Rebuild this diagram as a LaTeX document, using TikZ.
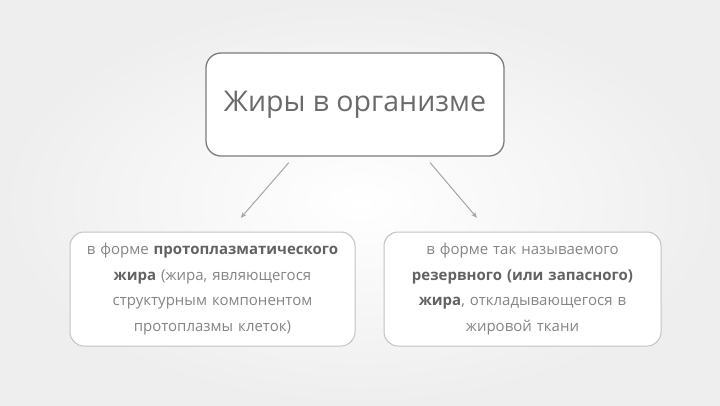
\documentclass[tikz,border=0pt]{standalone}
\usepackage{fontspec}
\setmainfont{Open Sans}
\usetikzlibrary{arrows.meta}
\definecolor{bgout}{HTML}{EEEEEE}
\definecolor{titlecol}{HTML}{6A6A6A}
\definecolor{topborder}{HTML}{7C7C7C}
\definecolor{subborder}{HTML}{C2C2C2}
\definecolor{txtlight}{HTML}{858585}
\definecolor{txtbold}{HTML}{626262}
\definecolor{arrcol}{HTML}{A5A5A5}
\newcommand{\bw}[1]{{\bfseries\color{txtbold}#1}}
\begin{document}
\begin{tikzpicture}[x=1pt,y=-1pt,
  topbox/.style={draw=topborder, line width=1.3pt, fill=white, rounded corners=15pt,
    minimum width=298pt, minimum height=103pt, inner sep=0pt, text=titlecol,
    font=\fontsize{28.5}{32}\selectfont},
  subbox/.style={draw=subborder, line width=1pt, fill=white, rounded corners=14pt,
    minimum height=114pt, inner sep=0pt, text=txtlight, align=center,
    font=\fontsize{15}{25.5}\selectfont},
  arr/.style={draw=arrcol, line width=1pt, -{Stealth[length=6pt,width=5pt]}}]
\useasboundingbox (0,0) rectangle (720,405);
\shade[inner color=white, outer color=bgout] (0,0) rectangle (720,405);
\node[topbox] (top) at (355,104.5) {Жиры в организме};
\node[subbox, minimum width=285pt, text width=270pt] (left) at (212.5,289) {в форме \bw{протоплазматического}\\ \bw{жира} (жира, являющегося\\ структурным компонентом\\ протоплазмы клеток)};
\node[subbox, minimum width=277pt, text width=262pt] (right) at (522.5,289) {в форме так называемого\\ \bw{резервного (или запасного)}\\ \bw{жира}, откладывающегося в\\ жировой ткани};
\draw[arr, shorten <=8pt, shorten >=18pt] ([xshift=-61pt]top.south) -- ([xshift=16.5pt]left.north);
\draw[arr, shorten <=8pt, shorten >=18pt] ([xshift=70pt]top.south) -- ([xshift=-34pt]right.north);
\end{tikzpicture}
\end{document}
